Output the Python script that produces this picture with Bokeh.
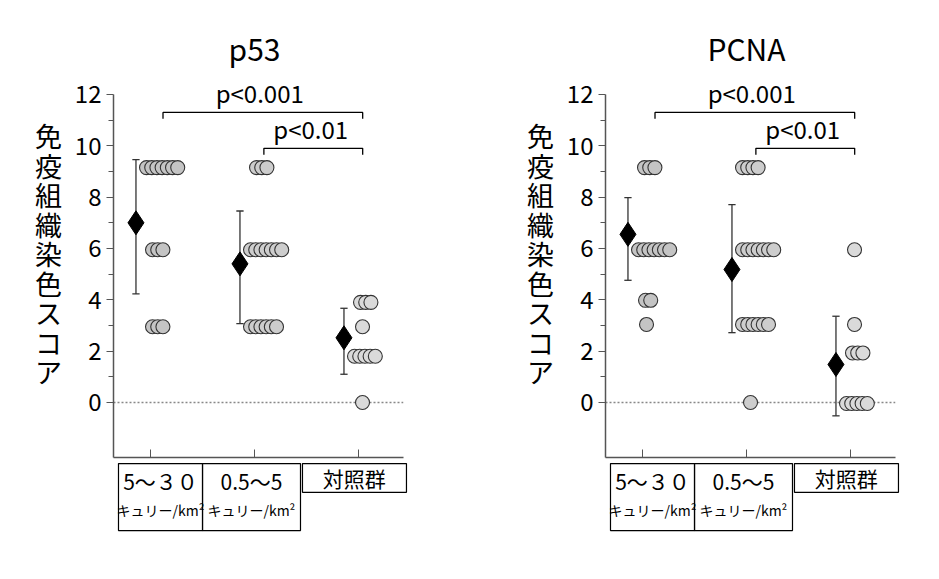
from bokeh.plotting import figure
from bokeh.models import Range1d, FixedTicker, Label
from bokeh.layouts import row
from bokeh.core.properties import value
from bokeh.embed import file_html
from bokeh.resources import INLINE

FONT = "Noto Sans CJK JP"

# group positions on the x axis
groups = [1, 2, 3]
group_fill = ["#c4c4c4", "#cdcdcd", "#dadada"]

# p53 scores per group
p53_g1 = [9.15, 9.15, 9.15, 9.15, 9.15, 9.15, 9.15, 5.95, 5.95, 5.95, 2.95, 2.95, 2.95]
p53_g2 = [9.15, 9.15, 9.15, 5.95, 5.95, 5.95, 5.95, 5.95, 5.95, 5.95,
          2.95, 2.95, 2.95, 2.95, 2.95, 2.95]
p53_g3 = [3.9, 3.9, 3.9, 2.95, 1.8, 1.8, 1.8, 1.8, 1.8, 0.0]
p53_mean = [7.0, 5.4, 2.52]
p53_low = [4.23, 3.07, 1.1]
p53_high = [9.46, 7.46, 3.67]

# PCNA scores per group
pcna_g1 = [9.15, 9.15, 9.15, 5.95, 5.95, 5.95, 5.95, 5.95, 5.95, 5.95, 3.98, 3.98, 3.04]
pcna_g2 = [9.15, 9.15, 9.15, 9.15, 5.95, 5.95, 5.95, 5.95, 5.95, 5.95, 5.95,
           3.04, 3.04, 3.04, 3.04, 3.04, 3.04, 0.0]
pcna_g3 = [5.95, 3.04, 1.93, 1.93, 1.93, -0.04, -0.04, -0.04, -0.04, -0.04]
pcna_mean = [6.55, 5.18, 1.48]
pcna_low = [4.76, 2.72, -0.52]
pcna_high = [7.98, 7.71, 3.36]

# significance brackets
bracket_x0 = [1.12, 2.09]
bracket_x1 = [3.04, 3.04]
bracket_y = [11.3, 9.9]
bracket_text = ["p<0.001", "p<0.01"]
bracket_text_x = [2.05, 2.54]

# category boxes under the axis
box_left = [0.692, 1.5, 2.461]
box_right = [1.5, 2.442, 3.461]
box_top = [-2.38, -2.38, -2.38]
box_bottom = [-4.99, -4.99, -3.5]
cat_line1 = ["5～３０", "0.5～5", "対照群"]
cat_line1_x = [1.096, 1.97, 2.96]
cat_line1_y = [-3.05, -3.05, -2.93]
cat_line2 = ["キュリー/km²", "キュリー/km²"]
cat_line2_x = [1.096, 1.97]
cat_line2_y = [-4.2, -4.2]

y_ticks = [0, 2, 4, 6, 8, 10, 12]
y_minor = [1, 3, 5, 7, 9, 11]
y_label = "免疫組織染色スコア"

PX = 104.0  # pixels per x unit
PY = 25.67  # pixels per y unit
X0 = 0.644  # where the y axis sits


def dot_rows(values, g):
    xs, ys = [], []
    seen = []
    for v in values:
        if v not in seen:
            seen.append(v)
    for v in seen:
        n = values.count(v)
        start = {1: 4, 2: 3, 3: 2}.get(n, -4)
        for i in range(n):
            xs.append(g + (start + i * 5.2) / PX)
            ys.append(v)
    return xs, ys


def make_panel(title, data, mean, low, high, width, left_px):
    # frame spans the whole panel; y axis is pinned at X0 inside it
    x_start = X0 - left_px / PX
    x_end = x_start + width / PX
    p = figure(width=width, height=548, x_range=Range1d(x_start, x_end),
               y_range=Range1d(-5.688, 15.348), output_backend="svg",
               toolbar_location=None, min_border_left=0,
               min_border_right=0, min_border_top=8, min_border_bottom=0)
    p.outline_line_color = None
    p.grid.grid_line_color = None

    p.yaxis.fixed_location = X0
    p.yaxis.ticker = FixedTicker(ticks=y_ticks, minor_ticks=y_minor)
    p.yaxis.bounds = (-2.14, 12)
    p.yaxis.axis_line_color = "#555555"
    p.yaxis.axis_line_width = 1.5
    p.yaxis.major_tick_line_color = "#555555"
    p.yaxis.minor_tick_line_color = "#555555"
    p.yaxis.major_tick_in = 0
    p.yaxis.major_tick_out = 7
    p.yaxis.minor_tick_in = 0
    p.yaxis.minor_tick_out = 5
    p.yaxis.major_label_standoff = 5
    p.yaxis.major_label_text_font = FONT
    p.yaxis.major_label_text_font_size = "24px"
    p.yaxis.major_label_text_color = "black"

    p.xaxis.fixed_location = -2.14
    p.xaxis.bounds = (X0, 3.43)
    p.xaxis.ticker = FixedTicker(ticks=groups, minor_ticks=[])
    p.xaxis.axis_line_color = "#555555"
    p.xaxis.axis_line_width = 1.5
    p.xaxis.major_tick_line_color = "#555555"
    p.xaxis.major_tick_in = 8
    p.xaxis.major_tick_out = 0
    p.xaxis.major_label_overrides = {1: "", 2: "", 3: ""}

    # zero reference line
    p.segment(x0=[X0], y0=[0], x1=[3.43], y1=[0], line_color="#888888",
              line_width=1.5, line_dash="2 2")

    # error bars and means
    xd = [g - 0.14 for g in groups]
    p.segment(x0=xd, y0=low, x1=xd, y1=high, line_color="#333333", line_width=1.3)
    p.segment(x0=[x - 0.035 for x in xd], y0=high, x1=[x + 0.035 for x in xd],
              y1=high, line_color="#333333", line_width=1.3)
    p.segment(x0=[x - 0.035 for x in xd], y0=low, x1=[x + 0.035 for x in xd],
              y1=low, line_color="#333333", line_width=1.3)
    p.scatter(x=xd, y=mean, marker="diamond", size=24, color="black")

    # individual scores
    for g, vals, fill in zip(groups, data, group_fill):
        xs, ys = dot_rows(vals, g)
        p.scatter(x=xs, y=ys, size=14, fill_color=fill, line_color="#333333",
                  line_width=1.1)

    # brackets
    xs = [[a, a, b, b] for a, b in zip(bracket_x0, bracket_x1)]
    ys = [[y - 0.25, y, y, y - 0.25] for y in bracket_y]
    p.multi_line(xs=xs, ys=ys, line_color="black", line_width=1.3)
    p.text(x=bracket_text_x, y=[y + 0.77 for y in bracket_y], text=bracket_text,
           text_font=value(FONT), text_font_size="24px", text_align="center",
           text_baseline="alphabetic", text_color="black")

    # category boxes
    p.quad(left=box_left, right=box_right, top=box_top, bottom=box_bottom,
           fill_color=None, line_color="black", line_width=1.2)
    p.text(x=cat_line1_x, y=cat_line1_y, text=cat_line1, text_font=value(FONT),
           text_font_size="21px", text_align="center", text_baseline="middle")
    p.text(x=cat_line2_x, y=cat_line2_y, text=cat_line2, text_font=value(FONT),
           text_font_size="14px", text_align="center", text_baseline="middle")

    p.add_layout(Label(x=2.0, y=13.79, text=title, text_font=FONT,
                       text_font_size="30px", text_align="center",
                       text_baseline="middle", text_color="black"))
    # vertical (stacked) axis title, one character per row
    chars = list(y_label)
    p.text(x=[X0 - 65 / PX] * len(chars),
           y=[10.40 - i * 29.5 / PY for i in range(len(chars))], text=chars,
           text_font=value(FONT), text_font_size="27px", text_align="center",
           text_baseline="middle", text_color="black")
    return p


p1 = make_panel("p53", [p53_g1, p53_g2, p53_g3], p53_mean, p53_low, p53_high, 420, 113)
p2 = make_panel("PCNA", [pcna_g1, pcna_g2, pcna_g3], pcna_mean, pcna_low, pcna_high, 492, 185)

layout = row(p1, p2)
open("out.html", "w").write(file_html(layout, INLINE))
